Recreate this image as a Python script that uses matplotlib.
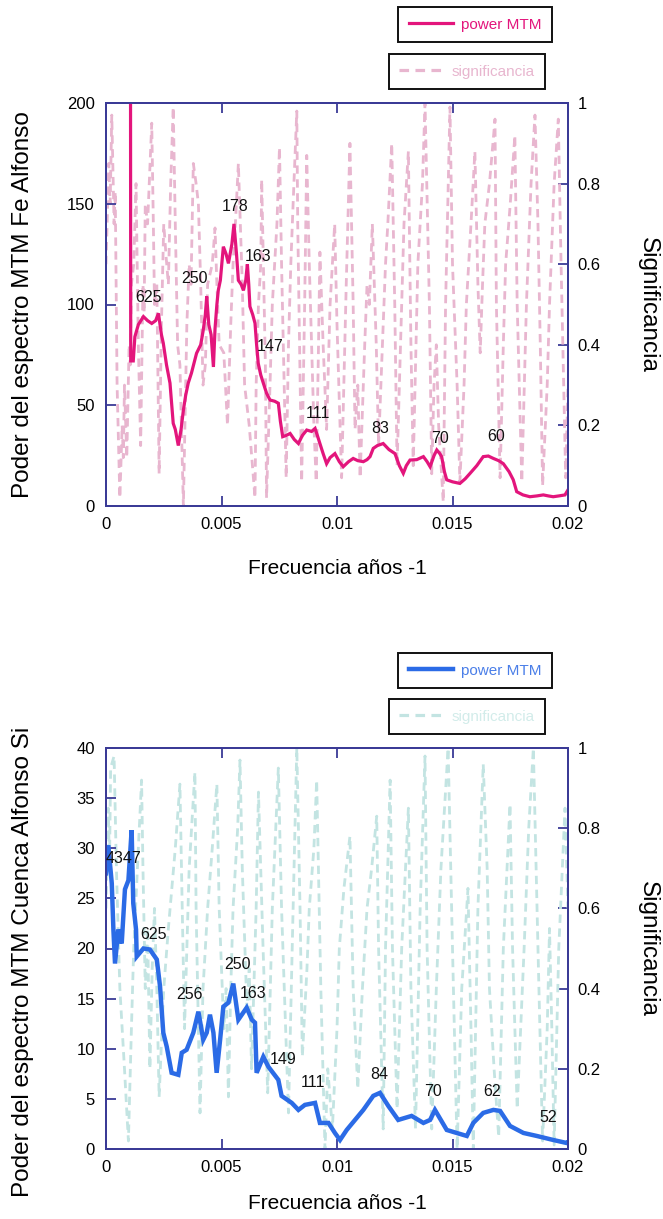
import matplotlib
matplotlib.use("Agg")
import matplotlib.pyplot as plt
from matplotlib.lines import Line2D

plt.rcParams['font.family'] = ['Liberation Sans', 'DejaVu Sans']

# ---------------- data: top panel (Fe) ----------------
fe_freq = [0.00105, 0.00107, 0.00118, 0.00125, 0.00140, 0.00162, 0.00180, 0.00198, 0.00215, 0.00227,
           0.00240, 0.00248, 0.00262, 0.00277, 0.00291, 0.00300, 0.00313, 0.00325, 0.00335, 0.00345,
           0.00356, 0.00370, 0.00392, 0.00410, 0.00421, 0.00430, 0.00436, 0.00445, 0.00455, 0.00465,
           0.00472, 0.00480, 0.00486, 0.00495, 0.00508, 0.00520, 0.00530, 0.00545, 0.00554, 0.00565,
           0.00573, 0.00585, 0.00595, 0.00605, 0.00612, 0.00618, 0.00623, 0.00635, 0.00645, 0.00652,
           0.00659, 0.00670, 0.00681, 0.00695, 0.00710, 0.00730, 0.00746, 0.00755, 0.00765, 0.00780,
           0.00797, 0.00815, 0.00833, 0.00850, 0.00869, 0.00890, 0.00905, 0.00915, 0.00926, 0.00940,
           0.00955, 0.00970, 0.00991, 0.01010, 0.01027, 0.01050, 0.01070, 0.01090, 0.01114, 0.01130,
           0.01143, 0.01157, 0.01175, 0.01200, 0.01225, 0.01251, 0.01270, 0.01287, 0.01300, 0.01316,
           0.01345, 0.01374, 0.01390, 0.01403, 0.01420, 0.01432, 0.01445, 0.01453, 0.01465, 0.01475,
           0.01500, 0.01532, 0.01555, 0.01576, 0.01605, 0.01633, 0.01655, 0.01677, 0.01700, 0.01720,
           0.01745, 0.01763, 0.01778, 0.01805, 0.01835, 0.01865, 0.01893, 0.01915, 0.01936, 0.01960,
           0.01987, 0.02000]
fe_power = [400, 72, 72, 84, 90, 94, 92, 90.6, 92, 95.6,
            85, 80.8, 70, 61, 41, 38, 30, 38, 47.6, 55,
            61, 66, 75.8, 80, 87.3, 95, 104, 90, 85, 69,
            88, 100, 107, 112, 128.7, 125, 120.4, 130, 140, 125,
            112, 110, 107, 112, 120, 110, 99, 95, 90.7, 80,
            70.8, 65, 61, 56, 52.6, 52, 51, 42, 34.4, 35,
            36, 33, 31, 35, 37.7, 37, 38.5, 35, 31, 26,
            21, 24, 26, 22, 19.5, 22, 23.6, 22.5, 22, 23,
            24.5, 28.6, 30, 31, 28, 26, 20, 16.2, 20, 22.8,
            23, 24.5, 22, 19.5, 25, 27.8, 26, 24.5, 17, 13,
            12, 11.2, 13.5, 16.2, 20, 24.5, 24.8, 23.6, 22.5, 21,
            17, 13, 7.1, 5.5, 4.6, 5.0, 5.5, 5.0, 4.6, 5.0,
            5.5, 8]

fe_sig_freq = [0.0000, 0.00012, 0.00018, 0.00025, 0.00035, 0.00040, 0.00048, 0.0006, 0.0007, 0.00075,
               0.0008, 0.0009, 0.0010, 0.00105, 0.0011, 0.0012, 0.0013, 0.0014, 0.0015, 0.0016,
               0.00165, 0.0017, 0.0018, 0.00198, 0.00205, 0.0021, 0.0022, 0.0023, 0.0024, 0.0025,
               0.0026, 0.0027, 0.0028, 0.00291, 0.0030, 0.0031, 0.0032, 0.00335, 0.0035, 0.0036,
               0.00368, 0.00378, 0.0039, 0.0040, 0.0041, 0.0042, 0.0043, 0.0044, 0.0046, 0.00472,
               0.0048, 0.0049, 0.0051, 0.00526, 0.0054, 0.0055, 0.0056, 0.00573, 0.0059, 0.0060,
               0.0062, 0.00645, 0.0065, 0.0066, 0.0067, 0.00674, 0.0069, 0.00695, 0.0071, 0.0072,
               0.0074, 0.00751, 0.0076, 0.0078, 0.0079, 0.0080, 0.0081, 0.00826, 0.0083, 0.00847,
               0.0086, 0.00869, 0.0088, 0.0090, 0.0091, 0.0092, 0.00926, 0.0094, 0.00955, 0.0097,
               0.0099, 0.0100, 0.0102, 0.0104, 0.01056, 0.0107, 0.01078, 0.0109, 0.0110, 0.0112,
               0.0113, 0.0114, 0.01153, 0.0117, 0.0118, 0.0120, 0.0121, 0.0122, 0.01237, 0.0125,
               0.0126, 0.0127, 0.0128, 0.0129, 0.01309, 0.0132, 0.0133, 0.0135, 0.0137, 0.01381,
               0.0140, 0.0141, 0.0142, 0.0143, 0.0144, 0.0146, 0.0147, 0.01489, 0.0150, 0.0152,
               0.01532, 0.0155, 0.0156, 0.0158, 0.01597, 0.0161, 0.0162, 0.0163, 0.0164, 0.0166,
               0.01684, 0.0169, 0.01706, 0.0172, 0.0173, 0.0175, 0.0177, 0.0178, 0.0180, 0.0182,
               0.0184, 0.01857, 0.0187, 0.0188, 0.0189, 0.0191, 0.0192, 0.0194, 0.01958, 0.0197,
               0.0199, 0.0200]
fe_sig = [0.60, 0.85, 0.75, 0.97, 0.70, 0.78, 0.30, 0.02, 0.20, 0.12,
          0.30, 0.12, 0.40, 0.35, 0.55, 0.60, 0.80, 0.40, 0.15, 0.55,
          0.48, 0.75, 0.70, 0.95, 0.70, 0.50, 0.55, 0.08, 0.45, 0.70,
          0.62, 0.55, 0.80, 0.99, 0.70, 0.40, 0.35, 0.00, 0.45, 0.60,
          0.55, 0.85, 0.80, 0.75, 0.55, 0.30, 0.35, 0.55, 0.60, 0.69,
          0.55, 0.40, 0.38, 0.20, 0.45, 0.60, 0.70, 0.85, 0.55, 0.30,
          0.20, 0.02, 0.30, 0.50, 0.60, 0.81, 0.35, 0.02, 0.30, 0.50,
          0.70, 0.89, 0.60, 0.07, 0.40, 0.60, 0.75, 0.98, 0.70, 0.06,
          0.50, 0.87, 0.60, 0.20, 0.06, 0.40, 0.63, 0.40, 0.19, 0.50,
          0.70, 0.45, 0.07, 0.55, 0.90, 0.50, 0.19, 0.30, 0.07, 0.40,
          0.55, 0.50, 0.70, 0.40, 0.15, 0.45, 0.60, 0.70, 0.90, 0.50,
          0.10, 0.30, 0.50, 0.70, 0.88, 0.40, 0.10, 0.60, 0.80, 1.00,
          0.50, 0.08, 0.30, 0.40, 0.20, 0.01, 0.50, 0.99, 0.60, 0.30,
          0.06, 0.30, 0.50, 0.70, 0.88, 0.55, 0.38, 0.55, 0.70, 0.80,
          0.96, 0.50, 0.07, 0.40, 0.60, 0.75, 0.92, 0.50, 0.06, 0.50,
          0.80, 0.97, 0.70, 0.40, 0.05, 0.30, 0.50, 0.80, 0.96, 0.60,
          0.07, 0.30]

fe_peak_labels = ["625", "250", "178", "163", "147", "111", "83", "70", "60"]
fe_peak_freq = [0.00186, 0.00385, 0.00561, 0.00660, 0.00710, 0.00916, 0.01186, 0.01446, 0.01691]
fe_peak_val = [103.5, 113, 148.5, 124, 79, 46, 38.5, 33.6, 34.4]

# ---------------- data: bottom panel (Si) ----------------
si_freq = [0.0, 0.0001, 0.00025, 0.00032, 0.00039, 0.00053, 0.00068, 0.00082, 0.00097, 0.00111,
           0.00118, 0.0013, 0.00133, 0.00162, 0.0019, 0.0022, 0.00234, 0.00248, 0.00263, 0.00284,
           0.00313, 0.00328, 0.00349, 0.00378, 0.0040, 0.00421, 0.00436, 0.0045, 0.00465, 0.00479,
           0.00494, 0.00508, 0.0053, 0.00551, 0.00573, 0.00609, 0.00631, 0.00645, 0.00652, 0.00681,
           0.00703, 0.00746, 0.0076, 0.00804, 0.00833, 0.00861, 0.00905, 0.00926, 0.00963, 0.00991,
           0.01013, 0.01042, 0.01078, 0.01114, 0.01157, 0.01186, 0.01222, 0.01265, 0.01323, 0.01374,
           0.01403, 0.01424, 0.01475, 0.01518, 0.01562, 0.0159, 0.01633, 0.01677, 0.01706, 0.01749,
           0.01807, 0.01865, 0.01936, 0.01994, 0.0200]
si_power = [27.5, 30.3, 26.5, 21.9, 18.5, 21.9, 20.5, 25.9, 26.8, 31.8,
            24.5, 21.9, 19.2, 20.0, 19.9, 18.9, 16.2, 11.6, 10.2, 7.6,
            7.4, 9.6, 9.9, 11.6, 13.7, 10.9, 11.6, 13.4, 11.6, 7.6,
            10.9, 14.2, 14.6, 16.5, 12.9, 14.1, 12.9, 12.6, 7.6, 9.2,
            8.2, 6.9, 5.3, 4.6, 3.9, 4.4, 4.6, 2.6, 2.6, 1.6,
            0.9, 1.9, 2.9, 3.9, 5.3, 5.6, 4.3, 2.9, 3.3, 2.6,
            2.9, 3.9, 1.9, 1.6, 1.3, 2.6, 3.6, 3.9, 3.8, 2.3,
            1.6, 1.3, 0.9, 0.6, 0.7]

si_sig_freq = [0.0, 0.0001, 0.00015, 0.0002, 0.00035, 0.00045, 0.0006, 0.0008, 0.00097, 0.0011,
               0.0012, 0.0014, 0.00154, 0.0016, 0.0017, 0.0018, 0.0019, 0.0020, 0.0021, 0.0022,
               0.0023, 0.0025, 0.0027, 0.0030, 0.0032, 0.0033, 0.0034, 0.0036, 0.00385, 0.0039,
               0.00407, 0.0042, 0.0044, 0.0046, 0.0048, 0.0049, 0.0051, 0.0052, 0.0053, 0.0054,
               0.0055, 0.0057, 0.0058, 0.0059, 0.0061, 0.0062, 0.0063, 0.0065, 0.0066, 0.0068,
               0.0070, 0.0072, 0.00746, 0.0076, 0.0079, 0.0081, 0.00826, 0.0084, 0.0085, 0.0087,
               0.0088, 0.0090, 0.00912, 0.0093, 0.00948, 0.0096, 0.0098, 0.0100, 0.0101, 0.0103,
               0.01056, 0.0107, 0.0109, 0.0111, 0.0113, 0.0115, 0.01172, 0.0118, 0.0120, 0.0121,
               0.0123, 0.0124, 0.0126, 0.0128, 0.01309, 0.0132, 0.0134, 0.0136, 0.01381, 0.0139,
               0.0141, 0.0143, 0.0145, 0.01481, 0.0150, 0.0152, 0.0154, 0.01567, 0.0158, 0.0159,
               0.0161, 0.01633, 0.0165, 0.0166, 0.0168, 0.0170, 0.0172, 0.01749, 0.0176, 0.0178,
               0.0181, 0.0183, 0.0185, 0.0187, 0.0189, 0.0191, 0.0192, 0.0193, 0.0194, 0.0196,
               0.01987, 0.0200]
si_sig = [0.60, 0.85, 0.70, 0.95, 0.98, 0.70, 0.40, 0.20, 0.02, 0.30,
          0.50, 0.75, 0.92, 0.70, 0.40, 0.55, 0.20, 0.45, 0.60, 0.40,
          0.13, 0.40, 0.55, 0.75, 0.91, 0.60, 0.30, 0.70, 0.94, 0.60,
          0.09, 0.40, 0.60, 0.75, 0.91, 0.60, 0.30, 0.40, 0.13, 0.40,
          0.60, 0.80, 0.97, 0.70, 0.35, 0.45, 0.20, 0.60, 0.89, 0.50,
          0.14, 0.60, 0.95, 0.60, 0.09, 0.60, 1.00, 0.60, 0.23, 0.45,
          0.60, 0.75, 0.92, 0.40, 0.00, 0.20, 0.05, 0.30, 0.50, 0.65,
          0.78, 0.40, 0.15, 0.40, 0.60, 0.70, 0.83, 0.50, 0.05, 0.50,
          0.92, 0.50, 0.10, 0.50, 0.85, 0.40, 0.05, 0.60, 0.98, 0.50,
          0.05, 0.40, 0.70, 1.00, 0.50, 0.00, 0.40, 0.65, 0.30, 0.00,
          0.60, 0.96, 0.70, 0.40, 0.20, 0.03, 0.50, 0.86, 0.50, 0.10,
          0.50, 0.80, 1.00, 0.50, 0.02, 0.30, 0.55, 0.30, 0.01, 0.50,
          0.85, 0.60]

si_peak_labels = ["4347", "625", "256", "250", "163", "149", "111", "84", "70", "62", "52"]
si_peak_freq = [0.00075, 0.00205, 0.0036, 0.0057, 0.00635, 0.00768, 0.00897, 0.01182, 0.01417, 0.0167, 0.01915]
si_peak_val = [29.0, 21.4, 15.4, 18.4, 15.5, 8.9, 6.6, 7.4, 5.75, 5.75, 3.1]

# ---------------- tick labels / text ----------------
x_ticks = [0, 0.005, 0.01, 0.015, 0.02]
x_ticklabels = ["0", "0.005", "0.01", "0.015", "0.02"]
sig_ticks = [0, 0.2, 0.4, 0.6, 0.8, 1.0]
sig_ticklabels = ["0", "0.2", "0.4", "0.6", "0.8", "1"]
fe_yticks = [0, 50, 100, 150, 200]
si_yticks = [0, 5, 10, 15, 20, 25, 30, 35, 40]

spine_color = "#3a3a96"
W, H = 663, 1219
fig = plt.figure(figsize=(W / 100, H / 100), dpi=100)


def panel(rect, freq, power, sfreq, sig, pcolor, scolor, plw, ymax, yticks,
          ylabel, ylabel_y, plabels, pfreq, pval, xlabel_y):
    ax = fig.add_axes(rect)
    ax2 = ax.twinx()
    ax.set_zorder(ax2.get_zorder() + 1)
    ax.patch.set_visible(False)

    ax2.plot(sfreq, sig, color=scolor, lw=2.0, dashes=(3, 2))
    ax.plot(freq, power, color=pcolor, lw=plw, solid_joinstyle='miter')

    ax.set_xlim(0, 0.02)
    ax.set_ylim(0, ymax)
    ax2.set_ylim(0, 1)
    ax.set_xticks(x_ticks)
    ax.set_xticklabels(x_ticklabels)
    ax.set_yticks(yticks)
    ax2.set_yticks(sig_ticks)
    ax2.set_yticklabels(sig_ticklabels)

    for a in (ax, ax2):
        for s in a.spines.values():
            s.set_color(spine_color)
            s.set_linewidth(1.3)
    ax.tick_params(axis='x', direction='in', length=7, width=1.3, color=spine_color,
                   top=True, labelsize=12, pad=8)
    ax.tick_params(axis='y', direction='in', length=7, width=1.3, color=spine_color,
                   labelsize=12, pad=8)
    ax2.tick_params(axis='y', direction='in', length=7, width=1.3, color=spine_color,
                    labelsize=12, pad=7)

    ax.set_xlabel("Frecuencia años -1", fontsize=15, va='center')
    ax.xaxis.set_label_coords(0.5, xlabel_y)
    ax.set_ylabel(ylabel, fontsize=17.5, va='center', ha='center')
    ax.yaxis.set_label_coords(-0.18, ylabel_y)
    ax2.set_ylabel("Significancia", fontsize=17.5, rotation=-90, va='center', ha='center')
    ax2.yaxis.set_label_coords(1.173, 0.5)

    for lab, f, v in zip(plabels, pfreq, pval):
        ax.text(f, v, lab, fontsize=11.5, ha='center', va='center', color='#111111', zorder=5)
    return ax


# top panel
panel([106 / W, 1 - 506 / H, 462 / W, 403 / H], fe_freq, fe_power, fe_sig_freq, fe_sig,
      "#e3157c", "#e8b6cf", 2.3, 200, fe_yticks,
      "Poder del espectro MTM Fe Alfonso", 0.5, fe_peak_labels, fe_peak_freq, fe_peak_val,
      -0.155)

# bottom panel
panel([106 / W, 1 - 1149 / H, 462 / W, 401 / H], si_freq, si_power, si_sig_freq, si_sig,
      "#2b6be6", "#c3e4e2", 3.2, 40, si_yticks,
      "Poder del espectro MTM Cuenca Alfonso Si", 0.466, si_peak_labels, si_peak_freq, si_peak_val,
      -0.135)


def legend_box(label, color, lw, dashes, right, top, textcolor):
    if dashes is None:
        h = Line2D([], [], color=color, lw=lw)
    else:
        h = Line2D([], [], color=color, lw=lw, dashes=dashes)
    leg = fig.legend(handles=[h], labels=[label], loc='upper right',
                     bbox_to_anchor=(right / W, 1 - top / H), frameon=True, fancybox=False,
                     edgecolor='#111111', framealpha=1, fontsize=11, handlelength=2.9,
                     handletextpad=0.5, borderpad=0.7, borderaxespad=0)
    leg.get_frame().set_linewidth(1.4)
    for t in leg.get_texts():
        t.set_color(textcolor)
    return leg


legend_box("power MTM", "#e3157c", 2.3, None, 552, 7, "#e3157c")
legend_box("significancia", "#e8b6cf", 2.3, (3, 2), 545, 54, "#e8b6cf")
legend_box("power MTM", "#2b6be6", 3.2, None, 552, 653, "#4a7ee8")
legend_box("significancia", "#c3e4e2", 2.3, (3, 2), 545, 699, "#d2ecea")

fig.savefig("out.png", dpi=100)
